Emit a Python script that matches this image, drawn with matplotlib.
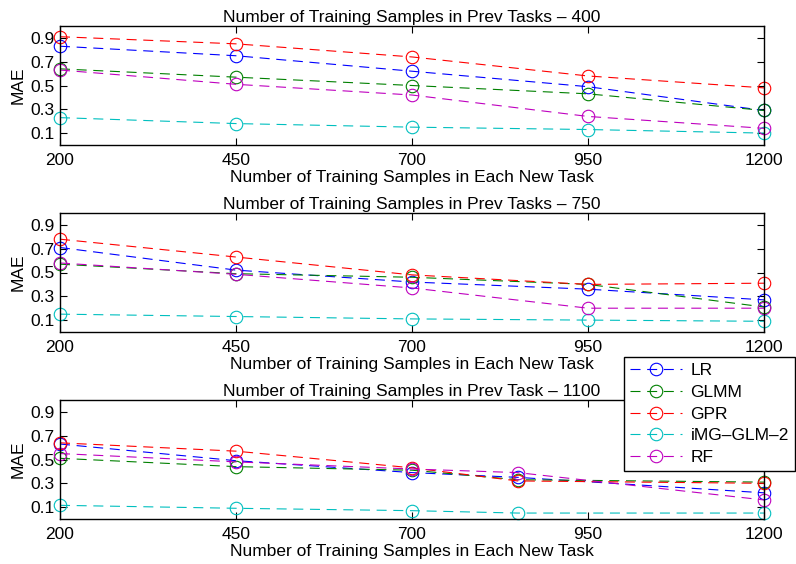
import matplotlib.pyplot as plt

OUTPUT_PATH = "out.png"

# x positions (samples in each new task)
x_top = [200, 450, 700, 950, 1200]
x_mid = [200, 450, 700, 950, 1200]
x_bot = [200, 450, 700, 850, 1200]

methods = ["LR", "GLMM", "GPR", "iMG\u2013GLM\u20132", "RF"]
colors = ["b", "g", "r", "c", "m"]

# prev tasks - 400
lr_400 = [0.83, 0.75, 0.62, 0.49, 0.29]
glmm_400 = [0.64, 0.57, 0.50, 0.43, 0.29]
gpr_400 = [0.91, 0.85, 0.74, 0.58, 0.48]
img_400 = [0.23, 0.18, 0.15, 0.13, 0.10]
rf_400 = [0.63, 0.51, 0.42, 0.24, 0.14]

# prev tasks - 750
lr_750 = [0.71, 0.52, 0.42, 0.36, 0.27]
glmm_750 = [0.57, 0.49, 0.46, 0.40, 0.21]
gpr_750 = [0.78, 0.63, 0.48, 0.40, 0.41]
img_750 = [0.15, 0.13, 0.11, 0.10, 0.09]
rf_750 = [0.58, 0.485, 0.37, 0.20, 0.20]

# prev task - 1100
lr_1100 = [0.63, 0.49, 0.39, 0.35, 0.22]
glmm_1100 = [0.51, 0.44, 0.41, 0.33, 0.31]
gpr_1100 = [0.64, 0.57, 0.43, 0.32, 0.30]
img_1100 = [0.115, 0.09, 0.07, 0.05, 0.05]
rf_1100 = [0.55, 0.48, 0.42, 0.39, 0.16]

titles = [
    "Number of Training Samples in Prev Tasks \u2013 400",
    "Number of Training Samples in Prev Tasks \u2013 750",
    "Number of Training Samples in Prev Task \u2013 1100",
]

FS = 12.5
plt.rcParams["font.family"] = ["Liberation Sans", "DejaVu Sans"]
plt.rcParams["font.size"] = FS


def main():
    fig = plt.figure(figsize=(7.96, 5.64), dpi=100)
    left, width, height = 60 / 796, 704 / 796, 119 / 564
    tops = [26, 213, 400]
    panels = [
        (x_top, [lr_400, glmm_400, gpr_400, img_400, rf_400]),
        (x_mid, [lr_750, glmm_750, gpr_750, img_750, rf_750]),
        (x_bot, [lr_1100, glmm_1100, gpr_1100, img_1100, rf_1100]),
    ]

    handles = []
    for i, (xs, series) in enumerate(panels):
        bottom = 1 - (tops[i] + 119) / 564
        ax = fig.add_axes([left, bottom, width, height])
        for name, ys, c in zip(methods, series, colors):
            (ln,) = ax.plot(xs, ys, color=c, linestyle="--", dashes=(9, 6),
                            linewidth=0.8, marker="o", markersize=9,
                            markerfacecolor="none", markeredgewidth=0.8,
                            label=name, clip_on=False)
            if i == 0:
                handles.append(ln)
        ax.set_xlim(200, 1200)
        ax.set_ylim(0, 1.0)
        ax.set_xticks([200, 450, 700, 950, 1200])
        ax.set_yticks([0.1, 0.3, 0.5, 0.7, 0.9])
        ax.tick_params(direction="in", length=5, width=0.8, top=True,
                       right=True, labelsize=FS, pad=4)
        ax.tick_params(axis="x", pad=6)
        for sp in ax.spines.values():
            sp.set_linewidth(1.0)
        ax.set_title(titles[i], fontsize=FS, pad=3)
        ax.set_xlabel("Number of Training Samples in Each New Task",
                      fontsize=FS, labelpad=1)
        ax.set_ylabel("MAE", fontsize=FS, labelpad=3)

    # legend box sits over the gap between the 2nd and 3rd panels
    leg = fig.legend(handles=handles, loc="upper right",
                     bbox_to_anchor=(795 / 796, 1 - 357 / 564),
                     borderaxespad=0, fancybox=False, framealpha=1,
                     edgecolor="black", handlelength=3.0, handletextpad=0.5,
                     labelspacing=0.38, borderpad=0.35, fontsize=FS)
    leg.get_frame().set_linewidth(1.0)
    leg.set_zorder(10)

    fig.savefig(OUTPUT_PATH, dpi=100)
    plt.close(fig)


if __name__ == "__main__":
    main()
